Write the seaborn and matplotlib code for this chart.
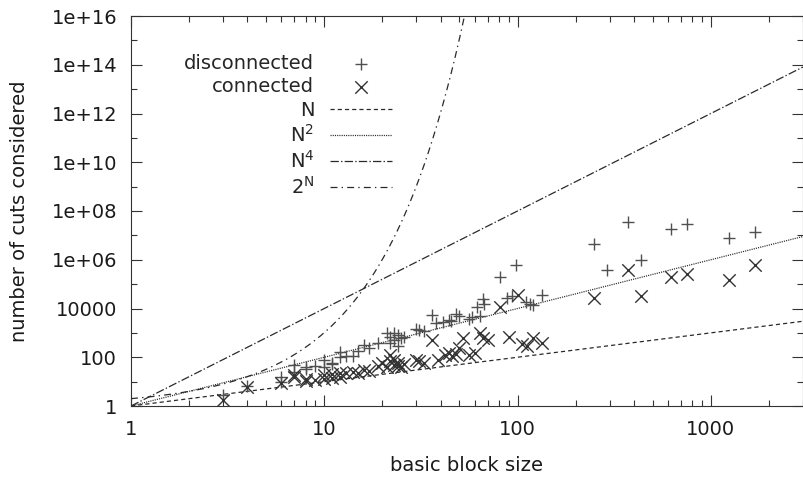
import numpy as np
import pandas as pd
import matplotlib
matplotlib.use('Agg')
import matplotlib.pyplot as plt
import seaborn as sns
from matplotlib.ticker import FixedLocator, LogLocator, NullFormatter

# basic block sizes and number of cuts
disc_size = [3, 4, 6, 6, 7, 7, 8, 8, 9, 10, 10, 11, 11, 12, 12, 13, 14, 15, 16, 17,
             19, 21, 22, 22, 23, 23, 24, 24, 25, 26, 30, 31, 33, 36, 38, 41, 44, 45,
             48, 50, 56, 58, 62, 64, 66, 67, 81, 88, 94, 98, 110, 116, 120, 134,
             250, 292, 372, 435, 620, 750, 1240, 1690]
disc_cuts = [2.8, 6.5, 15, 10, 50, 25, 33, 40, 45, 80, 40, 55, 60, 170, 100, 110, 110,
             180, 320, 250, 380, 950, 700, 400, 1000, 500, 800, 300, 600, 700, 1500,
             1300, 1200, 5500, 2500, 2800, 3500, 3000, 6000, 5000, 3800, 4500, 12000,
             5000, 24000, 15000, 1.9e5, 28000, 32000, 6.2e5, 18000, 15000, 14000, 36000,
             4.5e6, 3.9e5, 3.6e7, 1e6, 1.9e7, 3e7, 8e6, 1.4e7]

conn_size = [3, 4, 6, 7, 7, 8, 8, 9, 10, 10, 11, 11, 12, 12, 13, 14, 15, 16, 17, 19,
             20, 21, 22, 22, 23, 23, 24, 24, 25, 26, 30, 31, 33, 36, 39, 42, 44, 46,
             48, 50, 52, 56, 60, 64, 66, 70, 81, 90, 100, 106, 112, 120, 134,
             250, 372, 435, 620, 750, 1240, 1690]
conn_cuts = [1.8, 6, 8.5, 19, 15, 13, 11, 12, 13, 18, 14, 20, 16, 22, 22, 24, 22, 30,
             28, 45, 57, 40, 125, 70, 50, 80, 45, 60, 40, 55, 80, 70, 60, 500, 80, 120,
             150, 110, 140, 250, 600, 125, 150, 1000, 600, 500, 12000, 680, 36000, 350,
             300, 600, 380, 27000, 3.9e5, 33000, 2e5, 2.6e5, 1.5e5, 6.2e5]

y_ticks = [1e0, 1e2, 1e4, 1e6, 1e8, 1e10, 1e12, 1e14, 1e16]
y_labels = ['1', '100', '10000', '1e+06', '1e+08', '1e+10', '1e+12', '1e+14', '1e+16']
x_ticks = [1, 10, 100, 1000]
x_labels = ['1', '10', '100', '1000']

x_max = 3000

sns.set_style("ticks")
plt.rcParams['font.family'] = ['DejaVu Sans']
plt.rcParams['lines.scale_dashes'] = False
plt.rcParams['mathtext.default'] = 'regular'

fig = plt.figure(figsize=(8.04, 4.78), dpi=100)
ax = fig.add_axes([131 / 804, 1 - 406 / 478, (803 - 131) / 804, (406 - 16) / 478])

# reference curves
n = np.logspace(0, np.log10(x_max), 600)
curves = pd.DataFrame({'n': n, 'N': n, 'N2': n ** 2, 'N4': n ** 4, '2N': 2.0 ** n})
line_col = '#2a2a2a'
sns.lineplot(data=curves, x='n', y='N', color=line_col, lw=0.9,
             label='N', ax=ax).lines[-1].set_dashes((3, 2.2))
sns.lineplot(data=curves, x='n', y='N2', color=line_col, lw=0.9,
             label='N$^2$', ax=ax).lines[-1].set_dashes((0.8, 0.8))
sns.lineplot(data=curves, x='n', y='N4', color=line_col, lw=0.9,
             label='N$^4$', ax=ax).lines[-1].set_dashes((6, 1.6, 1, 1.6))
sns.lineplot(data=curves[curves['n'] < 60], x='n', y='2N', color=line_col, lw=0.9,
             label='2$^N$', ax=ax).lines[-1].set_dashes((5, 3, 1, 3))

# measured data
sns.scatterplot(x=disc_size, y=disc_cuts, marker='+', s=80, color='#505050',
                linewidth=1.0, label='disconnected', ax=ax, zorder=3)
sns.scatterplot(x=conn_size, y=conn_cuts, marker='x', s=80, color='#333333',
                linewidth=1.0, label='connected', ax=ax, zorder=3)

ax.set_xscale('log')
ax.set_yscale('log')
ax.set_xlim(1, x_max)
ax.set_ylim(1, 1e16)

ax.yaxis.set_major_locator(FixedLocator(y_ticks))
ax.set_yticklabels(y_labels)
ax.yaxis.set_minor_locator(FixedLocator([10.0 ** k for k in range(1, 16, 2)]))
ax.yaxis.set_minor_formatter(NullFormatter())
ax.xaxis.set_major_locator(FixedLocator(x_ticks))
ax.set_xticklabels(x_labels)
ax.xaxis.set_minor_locator(LogLocator(base=10, subs=np.arange(2, 10), numticks=20))
ax.xaxis.set_minor_formatter(NullFormatter())

ax.tick_params(which='both', direction='in', top=True, right=True, color='#333333', width=0.8)
ax.tick_params(which='major', length=8, labelsize=14, pad=10, labelcolor='#1a1a1a')
ax.tick_params(which='minor', length=4.2)
for sp in ax.spines.values():
    sp.set_visible(True)
    sp.set_color('#333333')
    sp.set_linewidth(0.8)

ax.set_xlabel('basic block size', fontsize=14, labelpad=12, color='#1a1a1a')
ax.set_ylabel('number of cuts considered', fontsize=14, labelpad=16, color='#1a1a1a')

# legend in gnuplot style: text first, sample on the right
handles, labels = ax.get_legend_handles_labels()
order = [labels.index(k) for k in ['disconnected', 'connected', 'N', 'N$^2$', 'N$^4$', '2$^N$']]
ax.legend([handles[i] for i in order], [labels[i] for i in order],
          loc='upper right', bbox_to_anchor=(392 / 804, 1 - 54 / 478),
          bbox_transform=fig.transFigure, frameon=False, markerfirst=False,
          fontsize=14, handlelength=3.2, handletextpad=0.8, labelspacing=0.22,
          borderpad=0, borderaxespad=0)

fig.savefig('out.png', dpi=100)
